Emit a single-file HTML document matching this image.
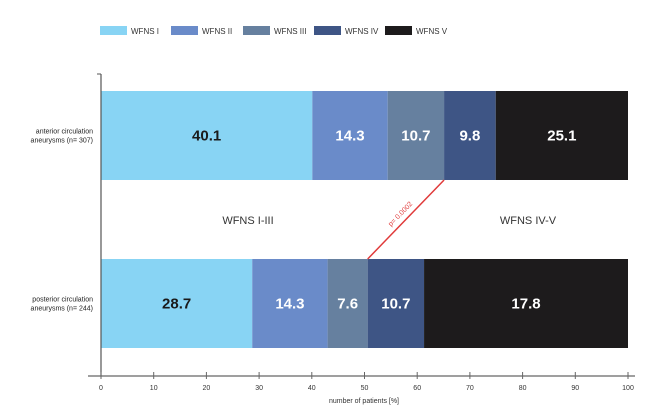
<!DOCTYPE html>
<html><head><meta charset="utf-8"><style>
body{margin:0;background:#fff;font-family:"Liberation Sans",sans-serif}
</style></head><body>
<svg id="c" width="663" height="413" xmlns="http://www.w3.org/2000/svg" font-family="Liberation Sans, sans-serif"></svg>
<script>
const categories=["anterior circulation|aneurysms (n= 307)","posterior circulation|aneurysms (n= 244)"];
const seriesNames=["WFNS I","WFNS II","WFNS III","WFNS IV","WFNS V"];
const anteriorValues=[40.1,14.3,10.7,9.8,25.1];
const posteriorValues=[28.7,14.3,7.6,10.7,17.8];
const ticks=[0,10,20,30,40,50,60,70,80,90,100];
const colors=["#88d4f4","#6a8bc9","#66809f","#3e5585","#1d1b1c"];
const textColors=["#1a1a1a","#fff","#fff","#fff","#fff"];
const NS="http://www.w3.org/2000/svg",svg=document.getElementById('c');
const x=v=>101+v*5.27;
const barTops=[91,259],barH=89;
function mk(t,a,p){const e=document.createElementNS(NS,t);for(const k in a)e.setAttribute(k,a[k]);(p||svg).appendChild(e);return e;}
const lx=[100,171,243,314,385];
seriesNames.forEach((n,i)=>{
const g=mk('g',{});


mk('rect',{x:lx[i],y:26,width:27,height:9,fill:colors[i]},g);
const t=mk('text',{x:lx[i]+31,y:34,'font-size':8,fill:'#333'},g);t.textContent=n;});
[anteriorValues,posteriorValues].forEach((vals,r)=>{let cum=0;vals.forEach((v,i)=>{
const end=(i===vals.length-1)?100:cum+v;
const b=mk('rect',{x:x(cum),y:barTops[r],width:x(end)-x(cum),height:barH,fill:colors[i]});


const t=mk('text',{x:(x(cum)+x(end))/2,y:barTops[r]+barH/2+5,'text-anchor':'middle','font-size':15,'font-weight':'bold',fill:textColors[i]});


t.textContent=v.toFixed(1);cum+=v;});});
categories.forEach((c,r)=>{const [a,b]=c.split('|');const cy=barTops[r]+barH/2;
const t=mk('text',{x:93,y:cy-2,'text-anchor':'end','font-size':7,fill:'#222'});t.textContent=a;

const t2=mk('text',{x:93,y:cy+7,'text-anchor':'end','font-size':7,fill:'#222'});t2.textContent=b;});
mk('line',{x1:101,y1:74,x2:101,y2:376,stroke:'#555','stroke-width':1.2});
mk('line',{x1:97,y1:74,x2:101,y2:74,stroke:'#555'});
mk('line',{x1:88,y1:376,x2:635,y2:376,stroke:'#666','stroke-width':1.2});
ticks.forEach(v=>{mk('line',{x1:x(v),y1:372,x2:x(v),y2:379,stroke:'#666'});
const t=mk('text',{x:x(v),y:390,'text-anchor':'middle','font-size':7,fill:'#333'});t.textContent=v;
});
const xt=mk('text',{x:364,y:403,'text-anchor':'middle','font-size':7,fill:'#333'});xt.textContent='number of patients [%]';

const g1=mk('text',{x:248,y:224,'text-anchor':'middle','font-size':11,fill:'#333'});g1.textContent='WFNS I-III';

const g2=mk('text',{x:528,y:224,'text-anchor':'middle','font-size':11,fill:'#333'});g2.textContent='WFNS IV-V';

const ca=anteriorValues.slice(0,3).reduce((a,b)=>a+b,0),cp=posteriorValues.slice(0,3).reduce((a,b)=>a+b,0);
const l=mk('line',{x1:x(ca),y1:180,x2:x(cp),y2:259,stroke:'#e03a3a','stroke-width':1.5});

const mx=(x(ca)+x(cp))/2,my=219.5,ang=Math.atan2(79,x(cp)-x(ca))*180/Math.PI+180;
const pt=mk('text',{x:mx-4,y:my-4,'text-anchor':'middle','font-size':7,fill:'#e03a3a',transform:`rotate(${ang} ${mx-4} ${my-4})`});
pt.textContent='p= 0.0002';
</script>
</body></html>
